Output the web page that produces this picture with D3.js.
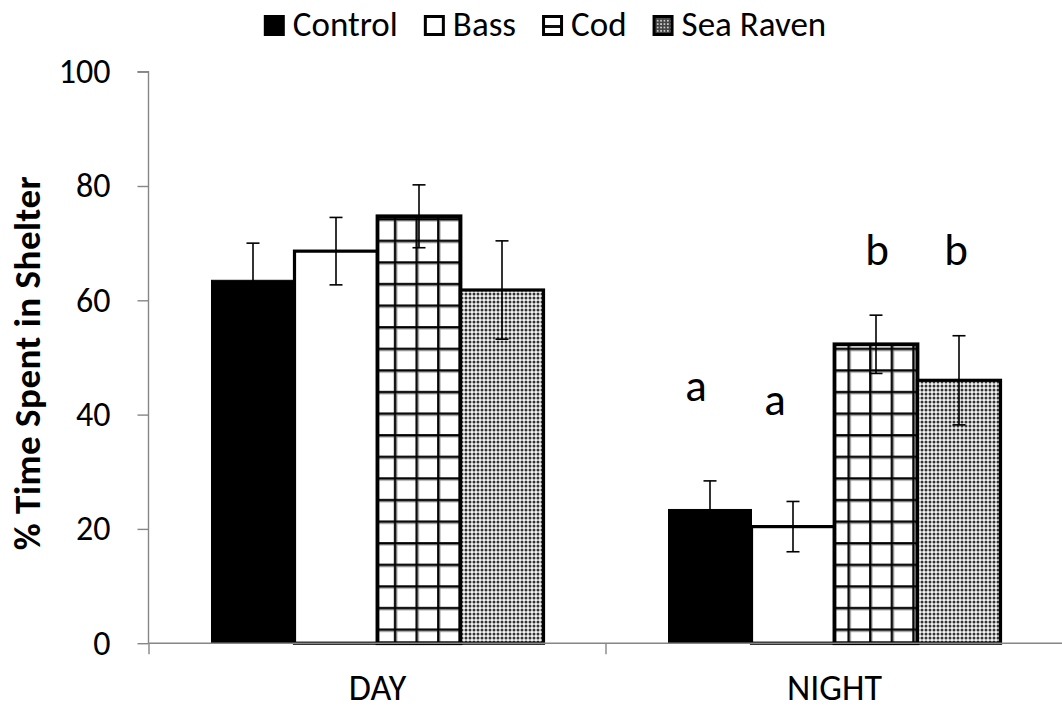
<!DOCTYPE html>
<html>
<head>
<meta charset="utf-8">
<script src="https://cdn.jsdelivr.net/npm/d3@7"></script>
<style>
  body { margin: 0; background: #fff; }
  text { font-family: Carlito, Lato, "Open Sans", sans-serif; fill: #000; }
</style>
</head>
<body>
<svg id="chart" width="1062" height="710"></svg>
<script>
// data
const categories = ["DAY", "NIGHT"];
const seriesNames = ["Control", "Bass", "Cod", "Sea Raven"];
const dayMeans = [63.5, 68.6, 74.7, 61.8];
const dayErr = [6.5, 5.9, 5.5, 8.6];
const nightMeans = [23.4, 20.4, 52.3, 46.0];
const nightErr = [5.0, 4.4, 5.1, 7.8];
const nightLetters = ["a", "a", "b", "b"];
const letterLevel = [42.3, 39.9, 66.2, 66.2];   // height of the letters, in % units
const yTicks = [0, 20, 40, 60, 80, 100];

const means = { DAY: dayMeans, NIGHT: nightMeans };
const errs = { DAY: dayErr, NIGHT: nightErr };

const width = 1062, height = 710;
const svg = d3.select("#chart");

const x0 = d3.scaleBand().domain(categories).range([149, 1063]);
const x1 = d3.scaleBand().domain(seriesNames).range([0, x0.bandwidth()]).paddingOuter(0.753);
const y = d3.scaleLinear().domain([0, 100]).range([643.2, 71.7]);

// patterns
const defs = svg.append("defs");

const grid = defs.append("pattern")
    .attr("id", "grid")
    .attr("patternUnits", "userSpaceOnUse")
    .attr("width", 21.6).attr("height", 21.6)
    .attr("x", 5).attr("y", 2);
grid.append("rect").attr("width", 21.6).attr("height", 21.6).attr("fill", "#fff");
grid.append("line").attr("x1", 0).attr("x2", 21.6).attr("y1", 1.2).attr("y2", 1.2)
    .attr("stroke", "#8a8a8a").attr("stroke-width", 4.4);
grid.append("line").attr("y1", 0).attr("y2", 21.6).attr("x1", 1.2).attr("x2", 1.2)
    .attr("stroke", "#8a8a8a").attr("stroke-width", 4.4);
grid.append("line").attr("x1", 0).attr("x2", 21.6).attr("y1", 1.2).attr("y2", 1.2)
    .attr("stroke", "#000").attr("stroke-width", 2);
grid.append("line").attr("y1", 0).attr("y2", 21.6).attr("x1", 1.2).attr("x2", 1.2)
    .attr("stroke", "#000").attr("stroke-width", 2);

const dots = defs.append("pattern")
    .attr("id", "dots")
    .attr("patternUnits", "userSpaceOnUse")
    .attr("width", 4).attr("height", 4);
dots.append("rect").attr("width", 4).attr("height", 4).attr("fill", "#f4f4f4");
dots.append("circle").attr("cx", 2).attr("cy", 2).attr("r", 1.5).attr("fill", "#333");

// legend swatch patterns (smaller)
const gridSmall = defs.append("pattern")
    .attr("id", "gridSmall")
    .attr("patternUnits", "userSpaceOnUse")
    .attr("width", 20).attr("height", 40)
    .attr("y", -20);
gridSmall.append("rect").attr("width", 20).attr("height", 40).attr("fill", "#fff");
gridSmall.append("line").attr("x1", 0).attr("x2", 20).attr("y1", 10.5).attr("y2", 10.5)
    .attr("stroke", "#111").attr("stroke-width", 3);

const dotsSmall = defs.append("pattern")
    .attr("id", "dotsSmall")
    .attr("patternUnits", "userSpaceOnUse")
    .attr("width", 3.4).attr("height", 3.4);
dotsSmall.append("rect").attr("width", 3.4).attr("height", 3.4).attr("fill", "#444");
dotsSmall.append("rect").attr("x", 0.9).attr("y", 0.9).attr("width", 1.6).attr("height", 1.6).attr("fill", "#ddd");

const fills = { "Control": "#000", "Bass": "#fff", "Cod": "url(#grid)", "Sea Raven": "url(#dots)" };
const legendFills = { "Control": "#000", "Bass": "#fff", "Cod": "url(#gridSmall)", "Sea Raven": "url(#dotsSmall)" };
const strokeW = { "Control": 1, "Bass": 3.2, "Cod": 3.8, "Sea Raven": 3.2 };

// axes
const axisColor = "#868686";

const yAxis = svg.append("g")
    .attr("transform", "translate(148.5,0)")
    .call(d3.axisLeft(y).tickValues(yTicks).tickSize(11).tickPadding(27));
yAxis.selectAll("line, path").attr("stroke", axisColor).attr("stroke-width", 1.4);
yAxis.select(".domain").attr("d", `M-11,${y(100)}H0V${y(0)}`);
yAxis.selectAll("text")
    .style("font-size", "34px")
    .style("font-family", "Carlito, Lato, 'Open Sans', sans-serif")
    .attr("fill", "#000");

// bars
const rows = [];
categories.forEach(c => {
  seriesNames.forEach((s, i) => {
    rows.push({ cat: c, series: s, i: i, mean: means[c][i], err: errs[c][i] });
  });
});

const bars = svg.append("g");
seriesNames.forEach(s => {
  bars.selectAll(null)
    .data(rows.filter(d => d.series === s))
    .join("rect")
      .attr("x", d => x0(d.cat) + x1(d.series))
      .attr("y", d => y(d.mean))
      .attr("width", x1.bandwidth())
      .attr("height", d => y(0) - y(d.mean))
      .attr("fill", fills[s])
      .attr("stroke", "#000")
      .attr("stroke-width", strokeW[s]);
});

const xAxis = svg.append("g")
    .attr("transform", `translate(0,${y(0)})`);
xAxis.append("line")
    .attr("x1", 148.5).attr("x2", width)
    .attr("stroke", axisColor).attr("stroke-width", 1.4);
xAxis.selectAll("line.tick")
    .data(categories)
    .join("line")
      .attr("class", "tick")
      .attr("x1", d => x0(d)).attr("x2", d => x0(d))
      .attr("y1", 0).attr("y2", 11)
      .attr("stroke", axisColor).attr("stroke-width", 1.4);
xAxis.selectAll("text")
    .data(categories)
    .join("text")
      .attr("x", d => x0(d) + x0.bandwidth() / 2)
      .attr("y", 57)
      .attr("text-anchor", "middle")
      .style("font-size", "36px")
      .text(d => d);

// error bars
const eb = svg.append("g").attr("stroke", "#000").attr("stroke-width", 1.6);
rows.forEach(d => {
  const cx = x0(d.cat) + x1(d.series) + x1.bandwidth() / 2;
  const y1 = y(d.mean + d.err), y2 = y(d.mean - d.err);
  eb.append("line").attr("x1", cx).attr("x2", cx).attr("y1", y1).attr("y2", y2);
  eb.append("line").attr("x1", cx - 6.5).attr("x2", cx + 6.5).attr("y1", y1).attr("y2", y1);
  eb.append("line").attr("x1", cx - 6.5).attr("x2", cx + 6.5).attr("y1", y2).attr("y2", y2);
});

// significance letters above the night bars
const letterShift = [-14, -18, 1, -3];
svg.append("g").selectAll("text")
  .data(nightLetters)
  .join("text")
    .attr("x", (d, i) => x0("NIGHT") + x1(seriesNames[i]) + x1.bandwidth() / 2 + letterShift[i])
    .attr("y", (d, i) => y(letterLevel[i]))
    .attr("text-anchor", "middle")
    .style("font-size", "45px")
    .text(d => d);

// y title
svg.append("text")
    .attr("transform", "translate(40,363) rotate(-90)")
    .attr("text-anchor", "middle")
    .style("font-size", "37px")
    .style("font-weight", "bold")
    .style("letter-spacing", "0.5px")
    .text("% Time Spent in Shelter");

// legend
const legend = svg.append("g");
let lx = 0;
const items = legend.selectAll("g")
  .data(seriesNames)
  .join("g");
items.append("rect")
    .attr("x", 1.5).attr("y", -19.5)
    .attr("width", 18).attr("height", 18)
    .attr("fill", d => legendFills[d])
    .attr("stroke", "#000")
    .attr("stroke-width", 3);
items.append("text")
    .attr("x", 29)
    .style("font-size", "35px")
    .text(d => d);
items.each(function () {
  const g = d3.select(this);
  g.attr("transform", `translate(${lx},0)`);
  lx += 29 + g.select("text").node().getComputedTextLength() + 26;
});
const legendW = lx - 26;
legend.attr("transform", `translate(${545 - legendW / 2},36)`);
</script>
</body>
</html>
